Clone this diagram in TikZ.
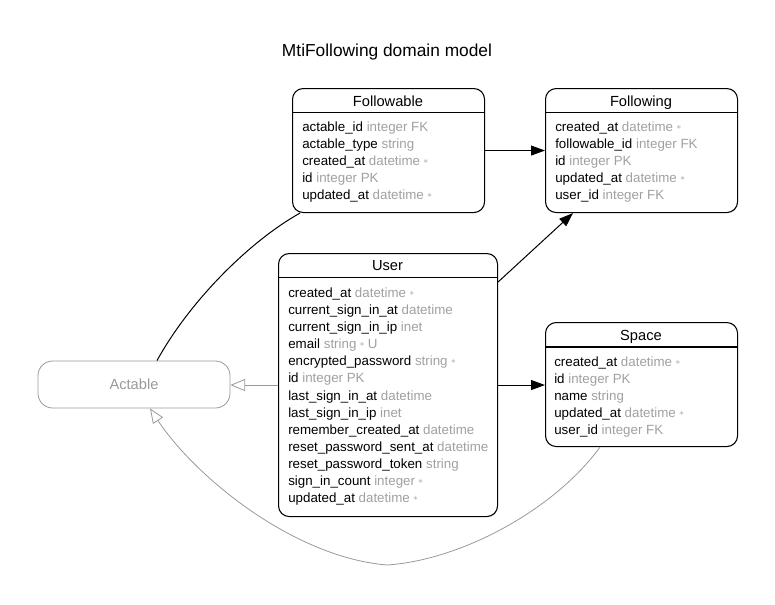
\documentclass[tikz,border=0pt]{standalone}
\usepackage{fontspec}
\setmainfont{Liberation Sans}
\newfontfamily\djv{DejaVu Sans}
\usetikzlibrary{arrows.meta,calc}
\definecolor{tgray}{HTML}{A0A0A0}
\definecolor{lgray}{HTML}{999999}
\definecolor{mgray}{HTML}{B8B8B8}
\newcommand\nnull{\hspace{2.2pt}\raisebox{1.4pt}{\textcolor{mgray}{\djv\fontsize{5}{5}\selectfont ∗}}}
\newcommand\attrrow[5]{\node[attr] (#1) at (#2,#3) {#4 \textcolor{tgray}{#5}};}
\begin{document}
\begin{tikzpicture}[x=0.75pt,y=-0.75pt,
  entity/.style={draw=black, line width=0.8pt, rounded corners=8pt, anchor=north west, inner sep=0pt},
  attr/.style={anchor=base west, inner sep=0pt, font=\fontsize{10}{12}\selectfont},
  ename/.style={anchor=base, inner sep=0pt, font=\fontsize{11}{13}\selectfont},
  abstract/.style={draw=lgray, line width=0.6pt, rounded corners=11pt, inner sep=0pt, text=lgray, font=\fontsize{11}{13}\selectfont},
  fk/.style={draw=black, line width=0.75pt, -{Triangle[length=10.5pt,width=7.5pt]}},
  plain/.style={draw=black, line width=0.75pt},
  inh/.style={draw=lgray, line width=0.6pt, -{Triangle[open,length=11pt,width=9pt,fill=white]}}]
\useasboundingbox (0,0) rectangle (775,604);
\node[anchor=base, font=\fontsize{13}{15}\selectfont] (title) at (387,56) {MtiFollowing domain model};

% boxes
\node[entity, minimum width=144pt, minimum height=93pt] (fol) at (292,88) {};
\node[entity, minimum width=144pt, minimum height=93pt] (fing) at (545,88) {};
\node[entity, minimum width=164.25pt, minimum height=197.25pt] (user) at (278,253) {};
\node[entity, minimum width=144pt, minimum height=93pt] (space) at (545,322) {};
\node[abstract, minimum width=144pt, minimum height=35.25pt] (act) at (134,384.5) {Actable};

% header separators
\draw[line width=0.8pt] ($(fol.north west)+(0,24.5)$) -- ($(fol.north east)+(0,24.5)$);
\draw[line width=0.8pt] ($(fing.north west)+(0,24.5)$) -- ($(fing.north east)+(0,24.5)$);
\draw[line width=0.8pt] ($(user.north west)+(0,24.7)$) -- ($(user.north east)+(0,24.7)$);
\draw[line width=0.8pt] ($(space.north west)+(0,25)$) -- ($(space.north east)+(0,25)$);

% names
\node[ename] (folname) at (388,106.3) {Followable};
\node[ename] (fingname) at (641,106.3) {Following};
\node[ename] (username) at (387.5,270.3) {User};
\node[ename] (spacename) at (641,340.3) {Space};

% Followable
\attrrow{fa1}{302}{131.2}{actable\_id}{integer FK}
\attrrow{fa2}{302}{148.35}{actable\_type}{string}
\attrrow{fa3}{302}{165.5}{created\_at}{datetime\nnull}
\attrrow{fa4}{302}{182.65}{id}{integer PK}
\attrrow{fa5}{302}{199.8}{updated\_at}{datetime\nnull}

% Following
\attrrow{ga1}{555}{131.2}{created\_at}{datetime\nnull}
\attrrow{ga2}{555}{148.35}{followable\_id}{integer FK}
\attrrow{ga3}{555}{165.5}{id}{integer PK}
\attrrow{ga4}{555}{182.65}{updated\_at}{datetime\nnull}
\attrrow{ga5}{555}{199.8}{user\_id}{integer FK}

% User
\attrrow{ua1}{288}{297.2}{created\_at}{datetime\nnull}
\attrrow{ua2}{288}{314.3}{current\_sign\_in\_at}{datetime}
\attrrow{ua3}{288}{331.5}{current\_sign\_in\_ip}{inet}
\attrrow{ua4}{288}{348.6}{email}{string\nnull\hspace{2.2pt}U}
\attrrow{ua5}{288}{365.7}{encrypted\_password}{string\nnull}
\attrrow{ua6}{288}{382.9}{id}{integer PK}
\attrrow{ua7}{288}{400.0}{last\_sign\_in\_at}{datetime}
\attrrow{ua8}{288}{417.1}{last\_sign\_in\_ip}{inet}
\attrrow{ua9}{288}{434.2}{remember\_created\_at}{datetime}
\attrrow{ua10}{288}{451.4}{reset\_password\_sent\_at}{datetime}
\attrrow{ua11}{288}{468.5}{reset\_password\_token}{string}
\attrrow{ua12}{288}{485.6}{sign\_in\_count}{integer\nnull}
\attrrow{ua13}{288}{502.8}{updated\_at}{datetime\nnull}

% Space
\attrrow{sa1}{554}{366.2}{created\_at}{datetime\nnull}
\attrrow{sa2}{554}{383.2}{id}{integer PK}
\attrrow{sa3}{554}{400.2}{name}{string}
\attrrow{sa4}{554}{417.2}{updated\_at}{datetime\nnull}
\attrrow{sa5}{554}{434.2}{user\_id}{integer FK}

% connectors
\coordinate (uf) at ($(user.north east)+(0,29)$);
\coordinate (fb) at ($(fing.south west)+(28,0)$);
\coordinate (fa) at ($(fol.south west)+(8,0)$);
\coordinate (at) at ($(act.north)+(23,0)$);
\coordinate (sb) at ($(space.south west)+(55,0)$);
\coordinate (ab) at ($(act.south)+(16,0)$);
\coordinate (low) at (387,565);

\draw[fk] (fol) -- (fing);
\draw[fk] (uf) -- (fb);
\draw[fk] (user.east) -- (user.east -| space.west);
\draw[inh] (user.west) -- (user.west -| act.east);
\draw[plain] (at) .. controls ($(at)+(33,-60)$) and ($(fa)+(-50,28)$) .. (fa);
\draw[inh] (sb) .. controls ($(sb)+(-45,62)$) and ($(low)+(75,-5)$) .. (low)
  .. controls ($(low)+(-95,-8)$) and ($(ab)+(44,67)$) .. (ab);
\end{tikzpicture}
\end{document}
